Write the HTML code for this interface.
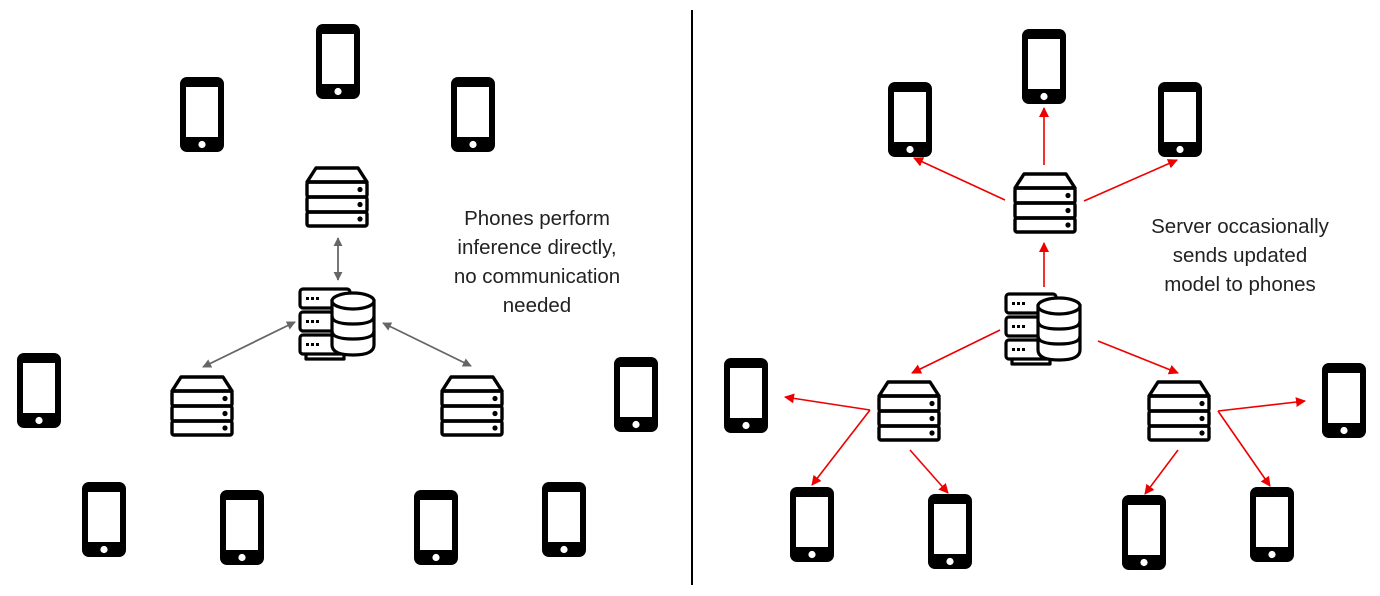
<!DOCTYPE html>
<html><head><style>
html,body{margin:0;padding:0;background:#fff;}
svg{display:block;}
text{font-family:"Liberation Sans",sans-serif;font-size:20.5px;fill:#222;text-anchor:middle;}
</style></head><body>
<svg width="1380" height="596" viewBox="0 0 1380 596" xmlns="http://www.w3.org/2000/svg">
<defs>
<symbol id="ph" viewBox="0 0 44 75">
<rect x="0" y="0" width="44" height="75" rx="7" fill="#000"/>
<rect x="6" y="10" width="32" height="50" fill="#fff"/>
<circle cx="22" cy="67.5" r="3.6" fill="#fff"/>
</symbol>
<symbol id="sv" viewBox="0 0 66 62">
<g fill="none" stroke="#000" stroke-width="3.4" stroke-linejoin="round">
<path d="M3 16 L12 2 L54 2 L63 16 Z"/>
<rect x="3" y="16" width="60" height="15" rx="2"/>
<rect x="3" y="31" width="60" height="15" rx="2"/>
<rect x="3" y="46" width="60" height="14" rx="2"/>
</g>
<circle cx="56" cy="23.5" r="2.6" fill="#000"/>
<circle cx="56" cy="38.5" r="2.6" fill="#000"/>
<circle cx="56" cy="53" r="2.6" fill="#000"/>
</symbol>
<symbol id="db" viewBox="0 0 78 74">
<g fill="none" stroke="#000" stroke-width="3.2" stroke-linejoin="round">
<rect x="2" y="2" width="50" height="19" rx="3"/>
<rect x="2" y="25" width="50" height="19" rx="3"/>
<rect x="2" y="48" width="50" height="19" rx="3"/>
<path d="M8 67 L8 72 L46 72 L46 67"/>
</g>
<g fill="#000"><rect x="8" y="10" width="3" height="3"/><rect x="13" y="10" width="3" height="3"/><rect x="18" y="10" width="3" height="3"/>
<rect x="8" y="33" width="3" height="3"/><rect x="13" y="33" width="3" height="3"/><rect x="18" y="33" width="3" height="3"/>
<rect x="8" y="56" width="3" height="3"/><rect x="13" y="56" width="3" height="3"/><rect x="18" y="56" width="3" height="3"/></g>
<path d="M34 14 L34 58 Q34 68 55 68 Q76 68 76 58 L76 14 Z" fill="#fff" stroke="#000" stroke-width="3.2"/>
<ellipse cx="55" cy="14" rx="21" ry="8" fill="#fff" stroke="#000" stroke-width="3.2"/>
<path d="M34 29 Q34 37 55 37 Q76 37 76 29 M34 44 Q34 52 55 52 Q76 52 76 44" fill="none" stroke="#000" stroke-width="3.2"/>
</symbol>
<marker id="ag" viewBox="0 0 10 10" refX="9" refY="5" markerWidth="9" markerHeight="9" markerUnits="userSpaceOnUse" orient="auto-start-reverse"><path d="M0 0 L10 5 L0 10 Z" fill="#666"/></marker>
<marker id="ar" viewBox="0 0 10 10" refX="9" refY="5" markerWidth="10" markerHeight="10" markerUnits="userSpaceOnUse" orient="auto"><path d="M0 0 L10 5 L0 10 Z" fill="#e00"/></marker>
</defs>

<line x1="692" y1="10" x2="692" y2="585" stroke="#000" stroke-width="2"/>

<use href="#ph" x="316" y="24" width="44" height="75"/>
<use href="#ph" x="180" y="77" width="44" height="75"/>
<use href="#ph" x="451" y="77" width="44" height="75"/>
<use href="#ph" x="17" y="353" width="44" height="75"/>
<use href="#ph" x="614" y="357" width="44" height="75"/>
<use href="#ph" x="82" y="482" width="44" height="75"/>
<use href="#ph" x="220" y="490" width="44" height="75"/>
<use href="#ph" x="414" y="490" width="44" height="75"/>
<use href="#ph" x="542" y="482" width="44" height="75"/>

<use href="#sv" x="304" y="166" width="66" height="62"/>
<use href="#sv" x="169" y="375" width="66" height="62"/>
<use href="#sv" x="439" y="375" width="66" height="62"/>
<use href="#db" x="298" y="287" width="78" height="74"/>

<g stroke="#666" stroke-width="1.8">
<line x1="338" y1="238" x2="338" y2="280" marker-start="url(#ag)" marker-end="url(#ag)"/>
<line x1="203" y1="367" x2="295" y2="322" marker-start="url(#ag)" marker-end="url(#ag)"/>
<line x1="383" y1="323" x2="471" y2="366" marker-start="url(#ag)" marker-end="url(#ag)"/>
</g>

<text x="537" y="225">Phones perform</text>
<text x="537" y="254">inference directly,</text>
<text x="537" y="283">no communication</text>
<text x="537" y="312">needed</text>

<use href="#ph" x="1022" y="29" width="44" height="75"/>
<use href="#ph" x="888" y="82" width="44" height="75"/>
<use href="#ph" x="1158" y="82" width="44" height="75"/>
<use href="#ph" x="724" y="358" width="44" height="75"/>
<use href="#ph" x="1322" y="363" width="44" height="75"/>
<use href="#ph" x="790" y="487" width="44" height="75"/>
<use href="#ph" x="928" y="494" width="44" height="75"/>
<use href="#ph" x="1122" y="495" width="44" height="75"/>
<use href="#ph" x="1250" y="487" width="44" height="75"/>

<use href="#sv" x="1012" y="172" width="66" height="62"/>
<use href="#sv" x="876" y="380" width="66" height="62"/>
<use href="#sv" x="1146" y="380" width="66" height="62"/>
<use href="#db" x="1004" y="292" width="78" height="74"/>

<g stroke="#e00" stroke-width="1.6" fill="none">
<line x1="1044" y1="165" x2="1044" y2="108" marker-end="url(#ar)"/>
<line x1="1005" y1="200" x2="914" y2="158" marker-end="url(#ar)"/>
<line x1="1084" y1="201" x2="1177" y2="160" marker-end="url(#ar)"/>
<line x1="1044" y1="287" x2="1044" y2="243" marker-end="url(#ar)"/>
<line x1="1000" y1="330" x2="912" y2="373" marker-end="url(#ar)"/>
<line x1="1098" y1="341" x2="1178" y2="373" marker-end="url(#ar)"/>
<line x1="870" y1="410" x2="785" y2="397" marker-end="url(#ar)"/>
<line x1="870" y1="410" x2="812" y2="485" marker-end="url(#ar)"/>
<line x1="910" y1="450" x2="948" y2="493" marker-end="url(#ar)"/>
<line x1="1218" y1="411" x2="1305" y2="401" marker-end="url(#ar)"/>
<line x1="1218" y1="411" x2="1270" y2="486" marker-end="url(#ar)"/>
<line x1="1178" y1="450" x2="1145" y2="494" marker-end="url(#ar)"/>
</g>

<text x="1240" y="233">Server occasionally</text>
<text x="1240" y="262">sends updated</text>
<text x="1240" y="291">model to phones</text>
</svg>
</body></html>
